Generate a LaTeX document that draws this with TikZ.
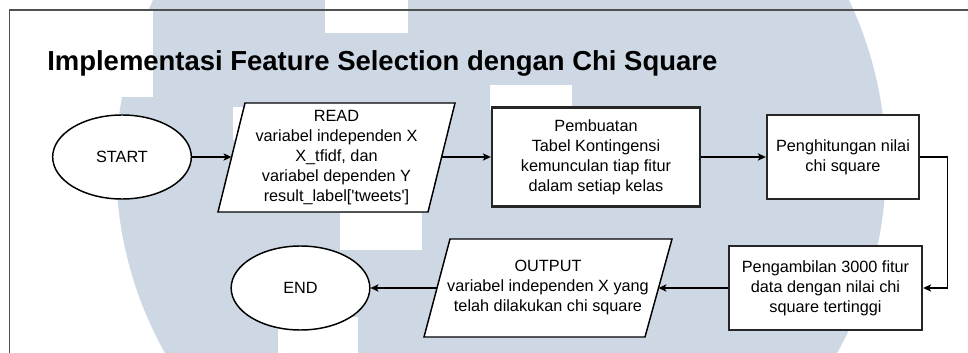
\documentclass[tikz,border=0pt]{standalone}
\usepackage{fontspec}
\setmainfont{Liberation Sans}
\usetikzlibrary{arrows.meta,shapes.geometric,calc}
\definecolor{wm}{RGB}{205,216,228}
\definecolor{framegray}{RGB}{80,80,80}
\begin{document}
\begin{tikzpicture}[x=0.75pt,y=-0.75pt,
  txt/.style={font=\fontsize{12.2}{15}\selectfont, align=center, inner sep=0pt},
  term/.style={ellipse, draw=black, line width=1.1pt, fill=white, minimum width=104pt, minimum height=63pt, inner sep=0pt, txt},
  procbox/.style={rectangle, draw=black!85, line width=1.8pt, fill=white, txt},
  io/.style={draw=black, line width=1.1pt, fill=white, line join=miter},
  flow/.style={draw=black, line width=0.8pt, -{Stealth[length=6pt,width=5.5pt,inset=1.5pt]}},
]
\useasboundingbox (0,0) rectangle (968,353);
% watermark
\begin{scope}
\clip (0,0) rectangle (968,353);
\fill[wm] (501,165) circle [radius=385];
\fill[white] (325,-5) rectangle (408,33);
\fill[white] (490,85) rectangle (572,110);
\fill[white] (340,213) rectangle (422,250);
\fill[white] (278,317) rectangle (358,360);
\fill[white] (233,107) rectangle (316,140);
\fill[white] (100,10) rectangle (153,97);
\end{scope}
% frame
\draw[framegray, line width=0.8pt] (9.5,353) -- (9.5,10) -- (968,10);
% title
\node[anchor=base west, font=\fontsize{20.6}{24}\selectfont\bfseries, inner sep=0pt] (title) at (47,71) {Implementasi Feature Selection dengan Chi Square};
% nodes
\node[term] (start) at (122,157) {START};
\draw[io] (245,103) -- (455,103) -- (428,212) -- (218,212) -- cycle;
\node[txt] (read) at (336.5,158) {READ\\variabel independen X\\X\_tfidf, dan\\variabel dependen Y\\result\_label[\textquotesingle tweets\textquotesingle]};
\coordinate (readL) at (231.5,157);
\coordinate (readR) at (441.5,157);
\node[procbox, minimum width=156pt, minimum height=74.25pt] (buat) at (596,157) {Pembuatan\\Tabel Kontingensi\\kemunculan tiap fitur\\dalam setiap kelas};
\node[procbox, minimum width=114pt, minimum height=63pt] (hitung) at (843,157) {Penghitungan nilai\\chi square};
\node[procbox, minimum width=144.75pt, minimum height=63pt] (ambil) at (825.5,288) {Pengambilan 3000 fitur\\data dengan nilai chi\\square tertinggi};
\draw[io] (450,239) -- (672,239) -- (645,337) -- (424,337) -- cycle;
\node[txt] (out) at (548,288) {OUTPUT\\variabel independen X yang\\telah dilakukan chi square};
\coordinate (outL) at (437,288);
\coordinate (outR) at (658.5,288);
\node[term] (end) at (300.5,288) {END};
% connectors
\draw[flow] (start.east) -- (readL);
\draw[flow] (readR) -- (buat.west);
\draw[flow] (buat.east) -- (hitung.west);
\draw[flow] (hitung.east) -- ++(27,0) |- (ambil.east);
\draw[flow] (ambil.west) -- (outR);
\draw[flow] (outL) -- (end.east);
\end{tikzpicture}
\end{document}
